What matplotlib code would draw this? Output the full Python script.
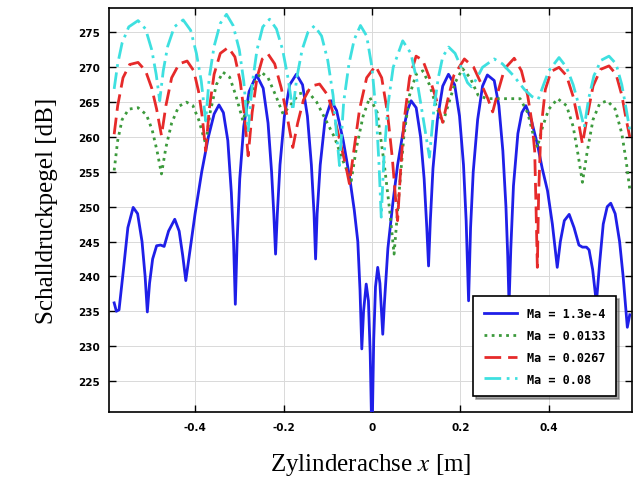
import matplotlib
matplotlib.use("Agg")
import matplotlib.pyplot as plt

plt.rcParams["mathtext.fontset"] = "stix"

# ---------------- data ----------------
blue_x = [-0.583, -0.578, -0.572, -0.562, -0.552, -0.540, -0.530, -0.520, -0.513, -0.508,
          -0.503, -0.496, -0.487, -0.478, -0.470, -0.460, -0.446, -0.436, -0.428, -0.421,
          -0.412, -0.400, -0.385, -0.370, -0.357, -0.346, -0.336, -0.326, -0.318, -0.313,
          -0.309, -0.305, -0.299, -0.290, -0.278, -0.261, -0.246, -0.235, -0.227, -0.222,
          -0.218, -0.214, -0.208, -0.198, -0.186, -0.171, -0.157, -0.146, -0.137, -0.131,
          -0.1275, -0.124, -0.117, -0.106, -0.092, -0.080, -0.065, -0.050, -0.040, -0.032,
          -0.027, -0.023, -0.019, -0.013, -0.008, -0.004, 0.0, 0.004, 0.008, 0.013,
          0.018, 0.022, 0.0244, 0.028, 0.036, 0.047, 0.058, 0.0695, 0.080, 0.0885,
          0.100, 0.110, 0.118, 0.124, 0.128, 0.132, 0.138, 0.148, 0.160, 0.173,
          0.187, 0.198, 0.207, 0.213, 0.2185, 0.223, 0.229, 0.239, 0.250, 0.261,
          0.2765, 0.287, 0.296, 0.303, 0.307, 0.310, 0.314, 0.320, 0.330, 0.339,
          0.348, 0.360, 0.374, 0.385, 0.397, 0.408, 0.419, 0.426, 0.435, 0.446,
          0.457, 0.468, 0.476, 0.485, 0.491, 0.499, 0.5075, 0.515, 0.523, 0.532,
          0.540, 0.550, 0.560, 0.568, 0.5775, 0.583]
blue_y = [236.2, 235.0, 235.2, 241.0, 247.0, 249.9, 249.0, 245.0, 240.0, 234.9,
          239.0, 242.5, 244.4, 244.5, 244.3, 246.5, 248.2, 246.5, 243.0, 239.4,
          243.5, 249.0, 255.0, 260.0, 263.3, 264.6, 263.5, 259.5, 252.0, 245.0,
          236.0, 245.0, 254.0, 261.5, 266.5, 268.9, 267.0, 262.0, 255.0, 249.0,
          243.2, 249.0, 256.0, 263.0, 267.5, 269.0, 267.5, 263.0, 256.0, 249.0,
          242.5, 249.0, 256.0, 262.5, 265.2, 263.8, 259.5, 254.0, 249.5, 245.0,
          238.0, 229.6, 235.0, 238.9, 236.5, 229.0, 216.0, 231.0, 238.5, 241.3,
          239.0, 234.5, 231.7, 236.0, 244.0, 250.4, 256.0, 260.4, 263.8, 265.2,
          264.2, 260.0, 254.0, 247.0, 241.5, 248.0, 255.5, 262.5, 267.3, 269.0,
          267.5, 263.0, 256.0, 248.0, 236.5, 247.0, 255.0, 262.5, 267.3, 268.9,
          268.1, 264.5, 258.0, 250.0, 243.0, 236.0, 244.0, 253.0, 260.5, 263.5,
          264.5, 262.5, 259.0, 255.5, 252.3, 247.5, 241.3, 245.0, 248.0, 248.9,
          247.0, 244.5, 244.2, 244.2, 243.8, 241.0, 236.2, 242.0, 247.5, 250.0,
          250.5, 249.0, 245.0, 240.0, 232.7, 234.5]

green_x = [-0.583, -0.575, -0.565, -0.550, -0.529, -0.510, -0.497, -0.486, -0.476, -0.466,
           -0.453, -0.437, -0.4195, -0.405, -0.392, -0.376, -0.366, -0.352, -0.337, -0.322,
           -0.308, -0.2916, -0.278, -0.262, -0.250, -0.235, -0.218, -0.201, -0.185, -0.165,
           -0.145, -0.125, -0.105, -0.085, -0.065, -0.047, -0.035, -0.020, -0.005, 0.012,
           0.028, 0.040, 0.050, 0.060, 0.072, 0.085, 0.100, 0.115, 0.130, 0.145,
           0.160, 0.172, 0.188, 0.205, 0.222, 0.240, 0.260, 0.285, 0.310, 0.335,
           0.352, 0.364, 0.374, 0.386, 0.400, 0.420, 0.440, 0.455, 0.466, 0.476,
           0.487, 0.500, 0.515, 0.532, 0.550, 0.565, 0.575, 0.583]
green_y = [255.2, 259.5, 262.5, 264.0, 264.2, 263.2, 261.0, 258.0, 254.7, 258.5,
           262.0, 264.4, 265.0, 264.5, 262.5, 259.0, 263.5, 267.5, 269.3, 268.6,
           266.0, 262.3, 265.5, 268.2, 269.3, 268.5, 266.0, 263.3, 264.5, 266.2,
           266.5, 265.0, 262.5, 260.0, 256.5, 253.7, 258.5, 263.0, 265.7, 263.5,
           256.0, 249.5, 243.2, 251.0, 260.0, 266.0, 269.0, 269.5, 267.5, 264.5,
           262.0, 264.5, 267.8, 269.8, 268.5, 266.0, 265.5, 265.5, 265.5, 265.5,
           263.5, 260.5, 258.5, 261.5, 264.0, 265.5, 264.5, 261.5, 257.5, 253.5,
           258.0, 262.5, 264.8, 265.2, 264.0, 260.5, 256.5, 252.5]

red_x = [-0.583, -0.575, -0.563, -0.548, -0.529, -0.512, -0.498, -0.487, -0.476, -0.466,
         -0.453, -0.436, -0.418, -0.403, -0.392, -0.384, -0.376, -0.368, -0.357, -0.343,
         -0.325, -0.310, -0.298, -0.289, -0.280, -0.271, -0.260, -0.248, -0.235, -0.220,
         -0.205, -0.192, -0.179, -0.168, -0.155, -0.138, -0.1185, -0.100, -0.085, -0.070,
         -0.058, -0.051, -0.040, -0.028, -0.012, 0.008, 0.022, 0.035, 0.046, 0.053,
         0.058, 0.064, 0.072, 0.085, 0.0998, 0.115, 0.130, 0.145, 0.160, 0.172,
         0.185, 0.209, 0.230, 0.248, 0.262, 0.273, 0.285, 0.300, 0.3217, 0.338,
         0.352, 0.362, 0.368, 0.371, 0.374, 0.377, 0.382, 0.392, 0.405, 0.423,
         0.440, 0.455, 0.466, 0.476, 0.487, 0.500, 0.517, 0.536, 0.552, 0.565,
         0.575, 0.583]
red_y = [260.4, 264.5, 268.5, 270.4, 270.7, 269.5, 267.0, 264.0, 260.2, 264.5,
         268.5, 270.5, 270.9, 269.5, 266.5, 263.0, 258.0, 264.0, 269.0, 272.0,
         272.85, 271.5, 268.0, 263.5, 257.3, 263.5, 268.5, 271.2, 271.9, 270.5,
         267.0, 263.0, 258.5, 262.0, 265.3, 267.3, 267.6, 266.0, 262.8, 258.8,
         255.5, 253.3, 258.5, 264.0, 268.5, 270.2, 268.5, 263.5, 257.0, 251.5,
         248.0, 254.5, 262.0, 268.5, 271.6, 271.0, 268.5, 265.5, 262.1, 265.5,
         268.8, 271.2, 270.0, 267.5, 265.5, 263.6, 266.5, 269.8, 271.3, 269.5,
         266.0, 262.0, 258.0, 250.0, 241.3, 252.0, 261.0, 266.8, 269.4, 270.0,
         268.8, 265.8, 262.5, 259.0, 263.0, 267.3, 269.7, 270.2, 269.0, 266.0,
         262.5, 260.0]

cyan_x = [-0.583, -0.575, -0.565, -0.550, -0.529, -0.512, -0.498, -0.488, -0.480, -0.472,
          -0.462, -0.447, -0.427, -0.410, -0.397, -0.386, -0.376, -0.368, -0.357, -0.343,
          -0.329, -0.314, -0.300, -0.290, -0.280, -0.271, -0.260, -0.247, -0.2314, -0.216,
          -0.202, -0.190, -0.179, -0.170, -0.158, -0.145, -0.130, -0.114, -0.100, -0.088,
          -0.0734, -0.064, -0.052, -0.040, -0.026, -0.012, 0.000, 0.010, 0.016, 0.021,
          0.027, 0.036, 0.048, 0.0695, 0.088, 0.102, 0.115, 0.130, 0.140, 0.150,
          0.160, 0.1735, 0.188, 0.205, 0.216, 0.225, 0.236, 0.250, 0.2765, 0.295,
          0.320, 0.345, 0.362, 0.376, 0.388, 0.400, 0.423, 0.440, 0.455, 0.468,
          0.480, 0.490, 0.502, 0.518, 0.536, 0.552, 0.565, 0.575, 0.583]
cyan_y = [266.9, 270.5, 273.5, 275.8, 276.7, 275.5, 272.5, 269.0, 265.2, 269.5,
          273.0, 275.8, 276.8, 275.3, 272.0, 268.0, 262.3, 268.5, 273.0, 276.3,
          277.6, 276.0, 272.5, 268.0, 260.9, 267.5, 272.5, 275.8, 276.9, 275.5,
          272.5, 268.5, 263.8, 268.5, 272.5, 275.0, 275.95, 274.5, 271.0, 266.0,
          255.9, 265.0, 270.5, 274.0, 276.0, 274.5, 270.0, 263.0, 256.0, 248.5,
          257.0, 264.5, 270.0, 273.8, 272.0, 268.0, 263.0, 257.1, 264.0, 268.5,
          271.5, 272.9, 272.0, 269.5, 267.8, 267.2, 268.3, 270.0, 271.2, 270.5,
          268.8, 266.8, 265.8, 265.4, 267.5, 269.5, 271.4, 270.0, 267.5, 264.5,
          261.4, 265.5, 268.8, 271.0, 271.6, 270.5, 267.5, 264.0, 261.0]

labels = ["Ma = 1.3e-4", "Ma = 0.0133", "Ma = 0.0267", "Ma = 0.08"]
x_ticks = [-0.4, -0.2, 0.0, 0.2, 0.4]
x_tick_labels = ["-0.4", "-0.2", "0", "0.2", "0.4"]
y_ticks = [225, 230, 235, 240, 245, 250, 255, 260, 265, 270, 275]

# ---------------- figure ----------------
fig = plt.figure(figsize=(6.34, 4.81), dpi=100)
ax = fig.add_axes([0.1724, 0.1407, 0.8244, 0.8412])

ax.plot(blue_x, blue_y, color="#1f1fe8", lw=2.0, ls="-", label=labels[0], zorder=3)
ax.plot(green_x, green_y, color="#3c9a3c", lw=2.0, ls=(0, (1, 1.6)), label=labels[1], zorder=4)
ax.plot(red_x, red_y, color="#e62a2a", lw=2.0, ls=(0, (6, 2.5)), label=labels[2], zorder=5)
ax.plot(cyan_x, cyan_y, color="#3ee0e0", lw=2.0, ls=(0, (6, 2, 1, 2)), label=labels[3], zorder=6)

ax.set_xlim(-0.594, 0.588)
ax.set_ylim(220.5, 278.55)
ax.set_xticks(x_ticks)
ax.set_xticklabels(x_tick_labels)
ax.set_yticks(y_ticks)
ax.grid(True, color="#d9d9d9", lw=0.7)
ax.set_axisbelow(True)

ax.tick_params(direction="in", top=True, right=True, length=5, width=1.0,
               labelsize=7.5, pad=7)
for lab in ax.get_xticklabels() + ax.get_yticklabels():
    lab.set_fontweight("bold")
    lab.set_family("DejaVu Sans")
for sp in ax.spines.values():
    sp.set_linewidth(1.2)

ax.set_xlabel("Zylinderachse $x$ [m]", family="Liberation Serif", fontsize=18, labelpad=14)
ax.set_ylabel("Schalldruckpegel [dB]", family="Liberation Serif", fontsize=18, labelpad=14)

leg = ax.legend(loc="lower left", bbox_to_anchor=(0.696, 0.04), borderaxespad=0.0,
                frameon=True, shadow=True, fancybox=False,
                prop={"family": "DejaVu Sans Mono", "weight": "bold", "size": 8.5},
                handlelength=2.8, handletextpad=0.9, borderpad=0.9, labelspacing=0.75)
leg.get_frame().set_edgecolor("black")
leg.get_frame().set_linewidth(1.2)

fig.savefig("out.png", dpi=100)
